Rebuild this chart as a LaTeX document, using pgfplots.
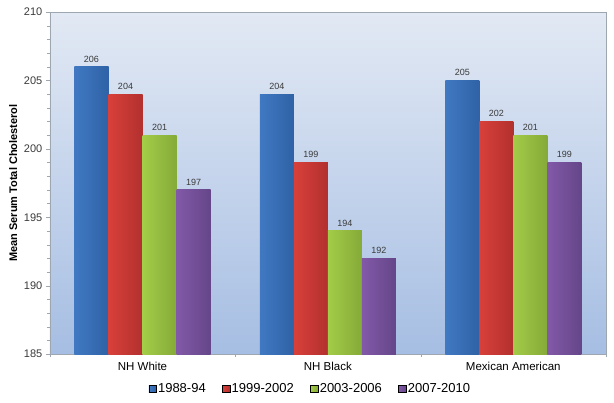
\documentclass[border=0pt]{standalone}
\usepackage{pgfplots}
\pgfplotsset{compat=1.18}
\usepackage{fontspec}
\setmainfont{Liberation Sans}
\definecolor{bluel}{HTML}{4079C2}
\definecolor{bluer}{HTML}{2F62A6}
\definecolor{redl}{HTML}{D9403A}
\definecolor{redr}{HTML}{B2302E}
\definecolor{greenl}{HTML}{A3CC48}
\definecolor{greenr}{HTML}{85AA38}
\definecolor{purpl}{HTML}{8259A8}
\definecolor{purpr}{HTML}{654689}
\definecolor{bgtop}{HTML}{E2E9F4}
\definecolor{bgbot}{HTML}{A6BEE3}
\definecolor{axgray}{HTML}{9EA6B0}
\definecolor{labgray}{HTML}{3A3A3A}
\pgfplotsset{
  sA/.style={draw=none, left color=bluel, right color=bluer, bar shift=-51pt, forget plot},
  sB/.style={draw=none, left color=redl, right color=redr, bar shift=-17pt, forget plot},
  sC/.style={draw=none, left color=greenl, right color=greenr, bar shift=17pt, forget plot},
  sD/.style={draw=none, left color=purpl, right color=purpr, bar shift=51pt, forget plot},
}
\begin{document}
\begin{tikzpicture}
\begin{axis}[
  name=ax,
  scale only axis,
  width=556pt, height=342pt,
  ybar=0pt, bar width=34pt,
  xmin=-0.5, xmax=2.5,
  ymin=185, ymax=210,
  ytick={185,190,...,210},
  minor y tick num=4,
  xtick={0,1,2},
  xticklabels={NH White,NH Black,Mexican American},
  minor xtick={-0.5,0.5,1.5,2.5},
  major x tick style={draw=none},
  tick align=outside,
  major tick length=4pt, minor tick length=3pt,
  ytick pos=left, xtick pos=bottom,
  tick style={axgray},
  axis line style={axgray},
  axis background/.style={top color=bgtop, bottom color=bgbot},
  /pgf/number format/assume math mode=true,
  yticklabel style={font=\fontsize{11}{13}\selectfont, text=labgray},
  xticklabel style={font=\fontsize{11.5}{13}\selectfont, text=black, yshift=-1pt},
  ylabel={Mean Serum Total Cholesterol},
  ylabel style={font=\fontsize{11}{13}\selectfont\bfseries, at={(axis description cs:-0.066,0.5)}, anchor=center},
  nodes near coords,
  every node near coord/.append style={font=\fontsize{9}{11}\selectfont, text=labgray, yshift=1pt},
  legend columns=4,
  legend style={draw=none, fill=none, at={(axis description cs:0.468,-0.102)}, anchor=center,
    font=\fontsize{13}{15}\selectfont,
    /tikz/every odd column/.append style={column sep=0pt},
    /tikz/every even column/.append style={column sep=15pt},
    nodes={inner xsep=1.5pt}},
  legend image code/.code={\fill[#1] (0pt,-3.5pt) rectangle (7.5pt,4pt);},
]
\addlegendimage{left color=bluel, right color=bluer}
\addlegendentry{1988-94}
\addlegendimage{left color=redl, right color=redr}
\addlegendentry{1999-2002}
\addlegendimage{left color=greenl, right color=greenr}
\addlegendentry{2003-2006}
\addlegendimage{left color=purpl, right color=purpr}
\addlegendentry{2007-2010}
% 1988-94
\addplot[sA] coordinates {(0,206)};
\addplot[sA] coordinates {(1,204)};
\addplot[sA] coordinates {(2,205)};
% 1999-2002
\addplot[sB] coordinates {(0,204)};
\addplot[sB] coordinates {(1,199)};
\addplot[sB] coordinates {(2,202)};
% 2003-2006
\addplot[sC] coordinates {(0,201)};
\addplot[sC] coordinates {(1,194)};
\addplot[sC] coordinates {(2,201)};
% 2007-2010
\addplot[sD] coordinates {(0,197)};
\addplot[sD] coordinates {(1,192)};
\addplot[sD] coordinates {(2,199)};
\end{axis}
\pgfresetboundingbox
\path (ax.south west) ++(-49.8pt,-48pt) coordinate (bbA);
\path (ax.north east) ++(8pt,12pt) coordinate (bbB);
\path[use as bounding box] (bbA) rectangle (bbB);
\end{tikzpicture}
\end{document}
